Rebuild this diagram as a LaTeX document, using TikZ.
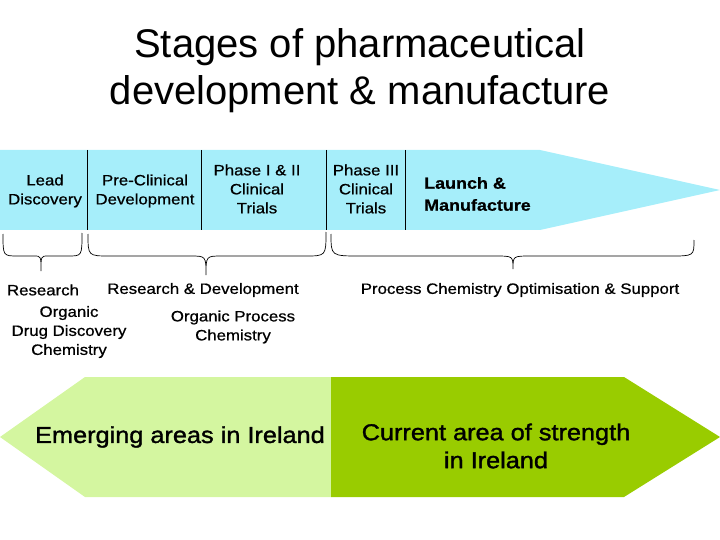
\documentclass[tikz,border=0pt]{standalone}
\usepackage{fontspec}
\setmainfont{Liberation Sans}
\newfontfamily\widesans[FakeStretch=1.12,FakeBold=0.7]{Liberation Sans}
\newfontfamily\heavysans[FakeStretch=1.1,FakeBold=1.4]{Liberation Sans}
\definecolor{bandblue}{RGB}{166,238,250}
\definecolor{lightgreen}{RGB}{212,246,160}
\definecolor{darkgreen}{RGB}{153,204,0}
\begin{document}
\begin{tikzpicture}[x=1pt,y=-1pt,
  stage/.style={align=center,font=\widesans\fontsize{15}{19}\selectfont,inner sep=0pt},
  lbl/.style={align=center,font=\widesans\fontsize{15}{19}\selectfont,inner sep=0pt},
  big/.style={align=center,font=\heavysans\fontsize{23}{28}\selectfont,inner sep=0pt},
  divider/.style={draw=black,line width=0.8pt},
  bracepath/.style={draw=black,line width=0.7pt}]
\useasboundingbox (0,0) rectangle (720,540);
% title
\node[align=center,font=\fontsize{40}{47}\selectfont,inner sep=0pt] (title) at (360,71) {Stages of pharmaceutical\\development \& manufacture};
% blue band
\fill[bandblue] (0,150) -- (540,150) -- (720,190) -- (540,230) -- (0,230) -- cycle;
\draw[divider] (87,150) -- (87,230);
\draw[divider] (201,150) -- (201,230);
\draw[divider] (326,150) -- (326,230);
\draw[divider] (405,150) -- (405,230);
\node[stage] (lead) at (45,191) {Lead\\Discovery};
\node[stage] (pre) at (145,191) {Pre-Clinical\\Development};
\node[stage] (ph12) at (257,189) {Phase I \& II\\Clinical\\Trials};
\node[stage] (ph3) at (366,189) {Phase III\\Clinical\\Trials};
\node[align=left,anchor=west,font=\widesans\fontsize{16}{22}\bfseries\selectfont,inner sep=0pt] (launch) at (424,194) {Launch \&\\Manufacture};
% braces
\draw[bracepath] (3,234) .. controls (3,256) .. (18,256) -- (34,256) .. controls (41,256) .. (41,271) .. controls (41,256) .. (48,256) -- (68,256) .. controls (82,256) .. (82,233);
\draw[bracepath] (88,234) .. controls (88,256) .. (110,256) -- (190,256) .. controls (206,256) .. (206,275) .. controls (206,256) .. (222,256) -- (305,256) .. controls (326,256) .. (326,232);
\draw[bracepath] (331,234) .. controls (331,256) .. (360,256) -- (495,256) .. controls (513,256) .. (513,269) .. controls (513,256) .. (531,256) -- (670,256) .. controls (694,256) .. (694,240);
\node[lbl] (research) at (43,290) {Research};
\node[lbl] (rnd) at (203,290) {Research \& Development};
\node[lbl] (proc) at (520,290) {Process Chemistry Optimisation \& Support};
\node[lbl] (odd) at (69,332) {Organic\\Drug Discovery\\Chemistry};
\node[lbl] (opc) at (233,327) {Organic Process\\Chemistry};
% green arrows
\fill[lightgreen] (331,377) -- (85,377) -- (0,437) -- (85,497) -- (331,497) -- cycle;
\fill[darkgreen] (331,377) -- (624,377) -- (720,437) -- (624,497) -- (331,497) -- cycle;
\node[big] (emerg) at (180,437) {Emerging areas in Ireland};
\node[big] (curr) at (496,446) {Current area of strength\\in Ireland};
\end{tikzpicture}
\end{document}
